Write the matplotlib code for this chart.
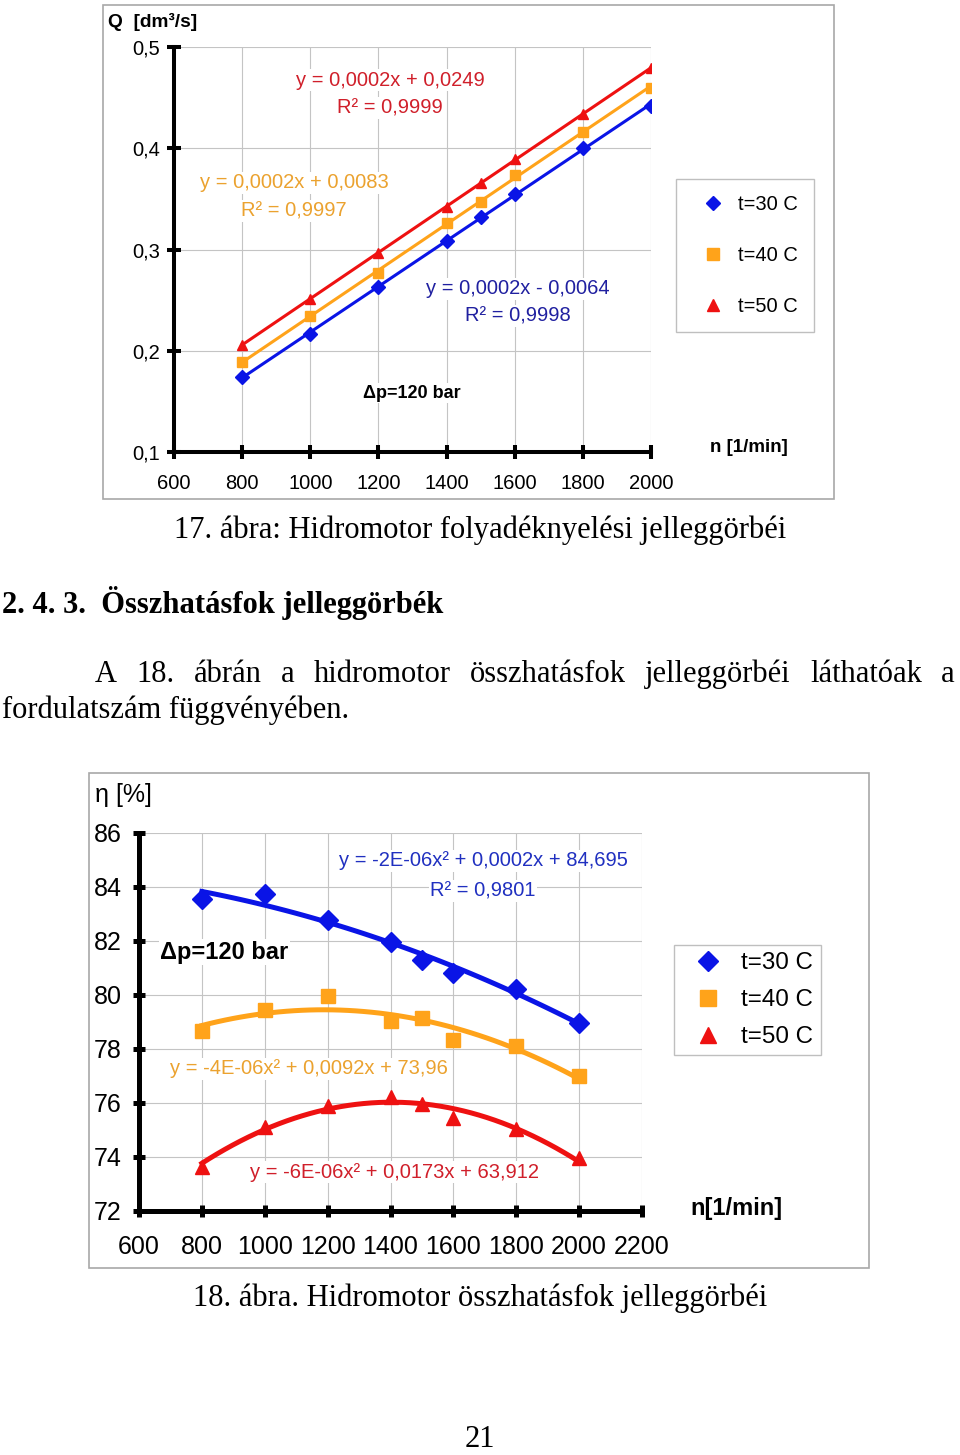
import numpy as np
import matplotlib.pyplot as plt
from matplotlib.patches import Rectangle
from matplotlib.lines import Line2D

# ---- data ----
n_rpm = [800, 1000, 1200, 1400, 1500, 1600, 1800, 2000]

q_30 = [0.174, 0.217, 0.263, 0.308, 0.332, 0.355, 0.400, 0.442]
q_40 = [0.189, 0.234, 0.277, 0.326, 0.347, 0.374, 0.416, 0.460]
q_50 = [0.206, 0.251, 0.297, 0.342, 0.366, 0.389, 0.434, 0.479]

eta_30 = [83.56, 83.75, 82.76, 81.98, 81.30, 80.82, 80.21, 78.98]
eta_40 = [78.66, 79.43, 79.96, 79.04, 79.16, 78.32, 78.10, 77.00]
eta_50 = [73.64, 75.12, 75.88, 76.23, 75.96, 75.43, 75.02, 73.95]

series_labels = ["t=30 C", "t=40 C", "t=50 C"]

q_xticks = [600, 800, 1000, 1200, 1400, 1600, 1800, 2000]
q_yticks = [0.1, 0.2, 0.3, 0.4, 0.5]
q_ylabels = ["0,1", "0,2", "0,3", "0,4", "0,5"]

eta_xticks = [600, 800, 1000, 1200, 1400, 1600, 1800, 2000, 2200]
eta_yticks = [72, 74, 76, 78, 80, 82, 84, 86]

q_eqs = [("y = 0,0002x - 0,0064", "R² = 0,9998"),
         ("y = 0,0002x + 0,0083", "R² = 0,9997"),
         ("y = 0,0002x + 0,0249", "R² = 0,9999")]
eta_eqs = ["y = -2E-06x² + 0,0002x + 84,695",
           "y = -4E-06x² + 0,0092x + 73,96",
           "y = -6E-06x² + 0,0173x + 63,912"]

BLUE = "#0a14e6"
ORANGE = "#ffa31a"
RED = "#ee1111"
EQ_COLORS = ["#2020a0", "#eba22f", "#d01f2a"]
MARKERS = ["D", "s", "^"]

SANS = "Liberation Sans"
SERIF = "Liberation Serif"
PAGE_FS = 22

W, H = 960, 1455
fig = plt.figure(figsize=(9.6, 14.55), dpi=100)


def fx(px):
    return px / W


def fy(py):
    return 1 - py / H


def ax_rect(x0, y0, x1, y1):
    return [fx(x0), fy(y1), fx(x1) - fx(x0), fy(y0) - fy(y1)]


def frame(x0, y0, x1, y1):
    fig.patches.append(Rectangle((fx(x0), fy(y1)), fx(x1) - fx(x0), fy(y0) - fy(y1),
                                 transform=fig.transFigure, fill=False,
                                 edgecolor="#a8a8a8", lw=1.2))


def label(ax, x, y, s, **kw):
    kw.setdefault("family", SANS)
    kw.setdefault("ha", "center")
    kw.setdefault("va", "center")
    return ax.text(fx(x), fy(y), s, transform=fig.transFigure, clip_on=False,
                   zorder=1.5, bbox=dict(facecolor="white", edgecolor="none", pad=1), **kw)


def style_axes(ax, spine_w, tick_len, pad_x, pad_y, fs):
    for s in ["top", "right"]:
        ax.spines[s].set_visible(False)
    for s in ["left", "bottom"]:
        ax.spines[s].set_linewidth(spine_w)
    ax.tick_params(direction="inout", length=tick_len, width=spine_w, labelsize=fs)
    ax.tick_params(axis="x", pad=pad_x)
    ax.tick_params(axis="y", pad=pad_y)
    for t in ax.get_xticklabels() + ax.get_yticklabels():
        t.set_family(SANS)
    ax.grid(color="#c4c4c4", lw=0.8)
    ax.set_axisbelow(True)


# ================= chart 17 =================
frame(103, 5, 834, 499)
ax1 = fig.add_axes(ax_rect(174, 47, 651, 452))
ax1.set_xlim(600, 2000)
ax1.set_ylim(0.1, 0.5)
ax1.set_xticks(q_xticks)
ax1.set_yticks(q_yticks, labels=q_ylabels)
style_axes(ax1, 2.9, 10, 10.5, 5, 14.5)

colors = [BLUE, ORANGE, RED]
xs = np.linspace(800, 2000, 50)
for q, c, m in zip([q_30, q_40, q_50], colors, MARKERS):
    k = np.polyfit(n_rpm, q, 1)
    ax1.plot(xs, np.polyval(k, xs), color=c, lw=2.2, zorder=2)
    ax1.plot(n_rpm, q, ls="none", marker=m, color=c, ms=7, zorder=3)

eq_pos1 = [(518, 289, 316), (294, 183, 211), (390, 80, 108)]
for (e, r), (x, y1, y2), c in zip(q_eqs, eq_pos1, EQ_COLORS):
    label(ax1, x, y1, e, color=c, fontsize=14.5)
    label(ax1, x, y2, r, color=c, fontsize=14.5)
label(ax1, 412, 393, "Δp=120 bar", fontsize=13, fontweight="bold")
label(ax1, 749, 448, "n [1/min]", fontsize=13.5, fontweight="bold")
label(ax1, 108, 22, "Q  [dm³/s]", fontsize=13.8, fontweight="bold", ha="left")

h1 = [Line2D([], [], ls="none", marker=m, color=c, ms=ms)
      for m, c, ms in zip(MARKERS, colors, [7, 8, 8])]
leg1 = ax1.legend(h1, series_labels, loc="center", bbox_to_anchor=(fx(745), fy(255.5)),
                  bbox_transform=fig.transFigure, fancybox=False, edgecolor="#b0b0b0",
                  prop={"family": SANS, "size": 14.5}, labelspacing=1.6,
                  handlelength=2.0, handletextpad=0.25, borderpad=0.8, borderaxespad=0)
leg1.get_frame().set_linewidth(1.0)

# ================= page text =================
fig.text(fx(480), fy(530), "17. ábra: Hidromotor folyadéknyelési jelleggörbéi",
         family=SERIF, fontsize=PAGE_FS, ha="center", va="center")
fig.text(fx(2), fy(603), "2. 4. 3.  Összhatásfok jelleggörbék",
         family=SERIF, fontsize=PAGE_FS, fontweight="bold", ha="left", va="center")

words = "A 18. ábrán a hidromotor összhatásfok jelleggörbéi láthatóak a".split()
wtexts = [fig.text(0, fy(674), w, family=SERIF, fontsize=PAGE_FS, ha="left", va="center")
          for w in words]
renderer = fig.canvas.get_renderer()
widths = [t.get_window_extent(renderer).width for t in wtexts]
gap = (955 - 95 - sum(widths)) / (len(words) - 1)
xpos = 95
for t, w in zip(wtexts, widths):
    t.set_x(fx(xpos))
    xpos += w + gap
fig.text(fx(2), fy(710), "fordulatszám függvényében.",
         family=SERIF, fontsize=PAGE_FS, ha="left", va="center")

fig.text(fx(480), fy(1298), "18. ábra. Hidromotor összhatásfok jelleggörbéi",
         family=SERIF, fontsize=PAGE_FS, ha="center", va="center")
fig.text(fx(480), fy(1447), "21", family=SERIF, fontsize=PAGE_FS, ha="center", va="baseline")

# ================= chart 18 =================
frame(89, 773, 869, 1268)
ax2 = fig.add_axes(ax_rect(139, 833, 642, 1211))
ax2.set_xlim(600, 2200)
ax2.set_ylim(72, 86)
ax2.set_xticks(eta_xticks)
ax2.set_yticks(eta_yticks)
style_axes(ax2, 3.6, 9, 13, 8, 18)

for e, c, m in zip([eta_30, eta_40, eta_50], colors, MARKERS):
    k = np.polyfit(n_rpm, e, 2)
    ax2.plot(xs, np.polyval(k, xs), color=c, lw=3.6, zorder=2)
    ax2.plot(n_rpm, e, ls="none", marker=m, color=c, ms=10, zorder=3)

label(ax2, 483, 861, eta_eqs[0], color="#2030c0", fontsize=14.5)
label(ax2, 483, 891, "R² = 0,9801", color="#2030c0", fontsize=14.5)
label(ax2, 170, 1069, eta_eqs[1], color=EQ_COLORS[1], fontsize=14.5, ha="left")
label(ax2, 395, 1172, eta_eqs[2], color=EQ_COLORS[2], fontsize=14.5)
label(ax2, 160, 952, "Δp=120 bar", fontsize=17, fontweight="bold", ha="left")
label(ax2, 736, 1209, "n[1/min]", fontsize=17, fontweight="bold")
label(ax2, 95, 795, "η [%]", fontsize=18, ha="left")

h2 = [Line2D([], [], ls="none", marker=m, color=c, ms=ms)
      for m, c, ms in zip(MARKERS, colors, [10, 11, 11])]
leg2 = ax2.legend(h2, series_labels, loc="center", bbox_to_anchor=(fx(747.5), fy(1000)),
                  bbox_transform=fig.transFigure, fancybox=False, edgecolor="#b0b0b0",
                  prop={"family": SANS, "size": 17.4}, labelspacing=0.62,
                  handlelength=2.2, handletextpad=0.28, borderpad=0.3, borderaxespad=0)
leg2.get_frame().set_linewidth(1.0)

fig.savefig("out.png", dpi=100)
